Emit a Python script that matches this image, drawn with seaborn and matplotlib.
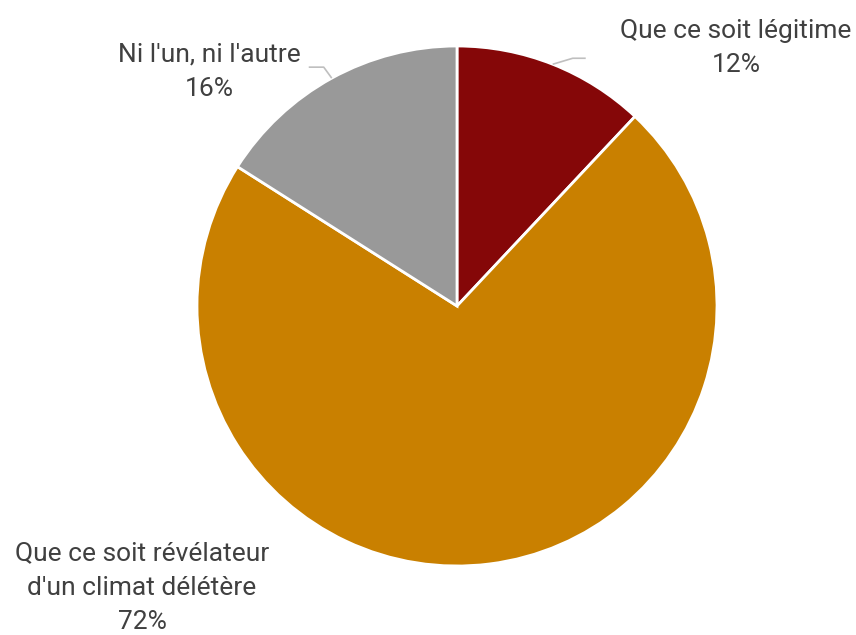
import numpy as np
import matplotlib
matplotlib.use("Agg")
import matplotlib.pyplot as plt
import seaborn as sns

labels = ["Que ce soit légitime", "Que ce soit révélateur\nd'un climat délétère", "Ni l'un, ni l'autre"]
values = [12, 72, 16]
colors = ["#850708", "#C98000", "#999999"]

sns.set_theme(style="white")
plt.rcParams['font.family'] = ['Roboto', 'Liberation Sans', 'DejaVu Sans']

W, H = 856, 635
fig = plt.figure(figsize=(W / 100, H / 100), dpi=100)
ax = fig.add_axes([0, 0, 1, 1])
ax.set_xlim(0, W)
ax.set_ylim(0, H)
ax.set_aspect('equal')
ax.axis('off')

cx, cy, r = 457, H - 306, 260
palette = sns.color_palette(colors)
wedges, _ = ax.pie(values, colors=palette, startangle=90, counterclock=False,
                   center=(cx, cy), radius=r,
                   wedgeprops=dict(edgecolor='white', linewidth=2.0))
ax.set_xlim(0, W)
ax.set_ylim(0, H)

txt_color = "#404040"
fs = 19
# label placement (pixel coords, top-left origin) and leader offsets
label_pos = [(736, 48), (142, 588), (209, 72)]
leaders = [[(20, -6), (33, -6)], None, [(-8, -11), (-23, -11)]]

total = sum(values)
cum = 0
for lab, v, pos, ld in zip(labels, values, label_pos, leaders):
    mid = 90 - 360 * (cum + v / 2) / total
    cum += v
    ax.text(pos[0], H - pos[1], f"{lab}\n{v}%", ha='center', va='center',
            fontsize=fs, color=txt_color, linespacing=1.55)
    if ld is not None:
        ex = cx + r * np.cos(np.radians(mid))
        ey = cy + r * np.sin(np.radians(mid))
        xs = [ex] + [ex + d[0] for d in ld]
        ys = [ey] + [ey - d[1] for d in ld]
        ax.plot(xs, ys, color="#BFBFBF", lw=1.2, solid_capstyle='butt')

fig.savefig("out.png", dpi=100, facecolor='white')
